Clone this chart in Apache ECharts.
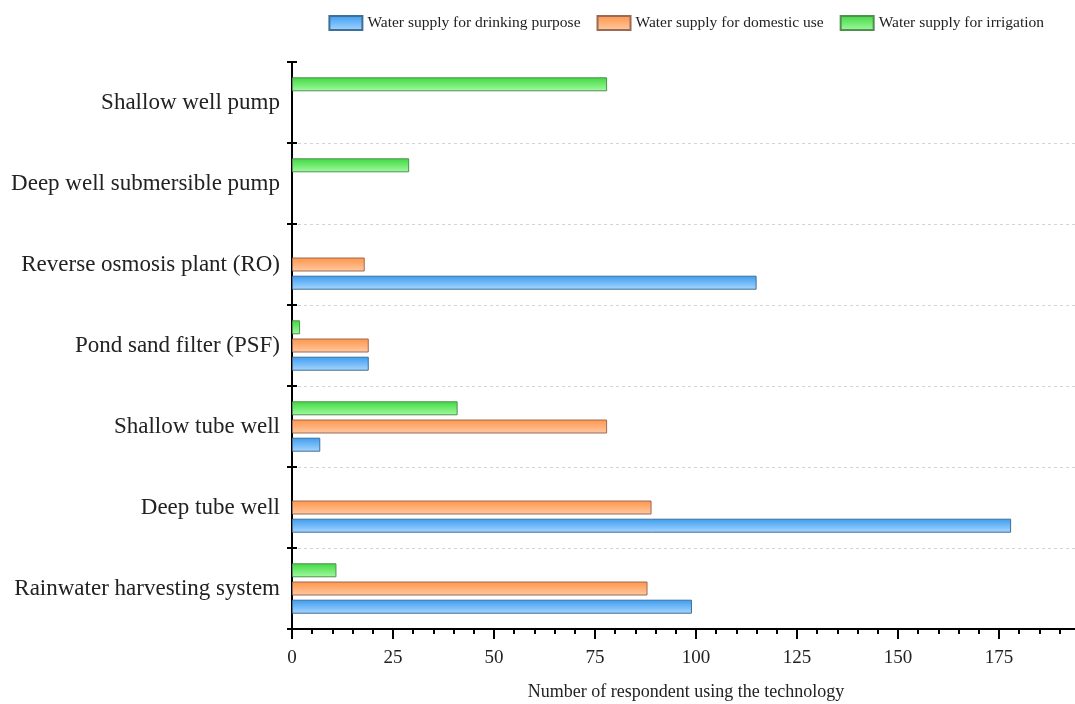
<!DOCTYPE html>
<html>
<head>
<meta charset="utf-8">
<script src="https://cdn.jsdelivr.net/npm/echarts@6/dist/echarts.min.js"></script>
<style>
html,body{margin:0;padding:0;background:#fff;overflow:hidden;}
#chart{width:1075px;height:704px;}
</style>
</head>
<body>
<div id="chart"></div>
<script>
var categories = ['Rainwater harvesting system', 'Deep tube well', 'Shallow tube well', 'Pond sand filter (PSF)', 'Reverse osmosis plant (RO)', 'Deep well submersible pump', 'Shallow well pump'];
var seriesNames = ['Water supply for drinking purpose', 'Water supply for domestic use', 'Water supply for irrigation'];
var drinking = [99, 178, 7, 19, 115, 0, 0];
var domestic = [88, 89, 78, 19, 18, 0, 0];
var irrigation = [11, 0, 41, 2, 0, 29, 78];
var xTicks = [0, 25, 50, 75, 100, 125, 150, 175];

var FONT = '"Liberation Serif", "Times New Roman", serif';
function grad(top, bottom) {
  return new echarts.graphic.LinearGradient(0, 0, 0, 1, [
    {offset: 0, color: top}, {offset: 1, color: bottom}
  ]);
}
var styles = [
  {fill: grad('#3a9cf0', '#a9d6ff'), border: '#3f6f96'},
  {fill: grad('#ff9448', '#ffcaa3'), border: '#9a6a55'},
  {fill: grad('#3fd83f', '#a2fba2'), border: '#4f8f4f'}
];
var values = [drinking, domestic, irrigation];
// top-to-bottom order inside each band: irrigation, domestic, drinking
var order = [2, 1, 0];

var chart = echarts.init(document.getElementById('chart'), null, {renderer: 'canvas'});
chart.setOption({
  animation: false,
  backgroundColor: '#fff',
  legend: {
    top: 10, right: 26, icon: 'rect',
    itemWidth: 33, itemHeight: 14, itemGap: 16,
    textStyle: {fontFamily: FONT, fontSize: 15.5, color: '#222'},
    data: seriesNames
  },
  grid: {left: 292, right: -25, top: 62, bottom: 75, containLabel: false, outerBoundsMode: 'none'},
  xAxis: {
    type: 'value', min: 0, max: 200, interval: 25,
    name: 'Number of respondent using the technology',
    nameLocation: 'middle', nameGap: 54,
    nameTextStyle: {fontFamily: FONT, fontSize: 18, color: '#222', padding: [0, 20, 0, 0]},
    axisLine: {show: true, lineStyle: {color: '#000', width: 2}},
    axisTick: {show: true, length: 10, lineStyle: {color: '#000', width: 2}},
    minorTick: {show: true, splitNumber: 5, length: 5, lineStyle: {color: '#000', width: 2}},
    axisLabel: {fontFamily: FONT, fontSize: 19, color: '#222', margin: 20,
      formatter: function (v) { return xTicks.indexOf(v) >= 0 ? String(v) : ''; }},
    splitLine: {show: false}
  },
  yAxis: [{
    type: 'category', data: categories,
    axisLine: {show: true, lineStyle: {color: '#000', width: 2}},
    axisTick: {show: true, length: 5, lineStyle: {color: '#000', width: 2}},
    axisLabel: {fontFamily: FONT, fontSize: 23, color: '#222', margin: 12},
    splitLine: {show: true, showMinLine: false, showMaxLine: false,
      lineStyle: {color: '#d4d4d4', type: [3, 3], width: 1}}
  }, {
    type: 'category', data: categories, position: 'left', offset: 0,
    axisLine: {show: false},
    axisTick: {show: true, inside: true, length: 5, lineStyle: {color: '#000', width: 2}},
    axisLabel: {show: false},
    splitLine: {show: false}
  }],
  series: order.map(function (i) {
    return {
      name: seriesNames[i], type: 'bar', yAxisIndex: 0,
      data: values[i].map(function (v) { return v === 0 ? null : v; }),
      barWidth: 14, barGap: '30%',
      itemStyle: {color: styles[i].fill, borderColor: styles[i].border, borderWidth: 1}
    };
  })
});
</script>
</body>
</html>
